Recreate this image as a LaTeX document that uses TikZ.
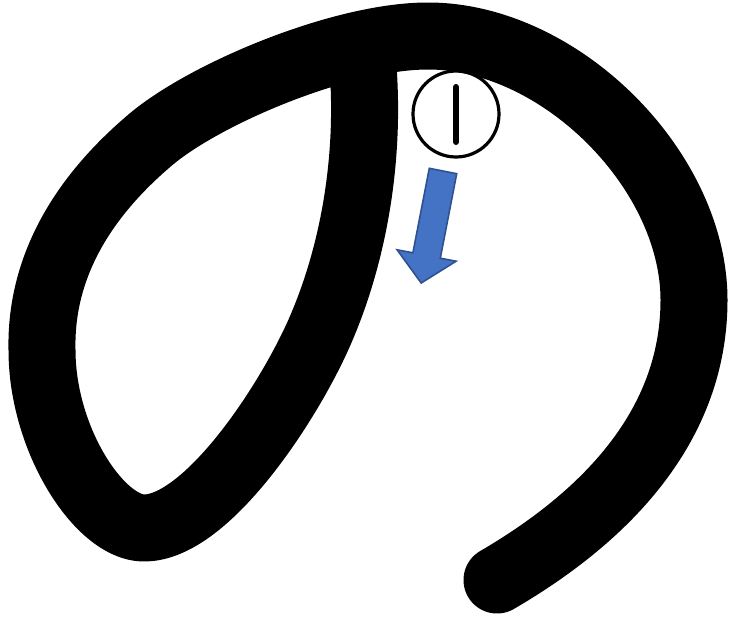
\documentclass[tikz,border=0pt]{standalone}
\usetikzlibrary{calc}
\usetikzlibrary{positioning}

\definecolor{arrowfill}{RGB}{68,114,196}
\definecolor{arrowline}{RGB}{47,82,143}

\tikzset{
    kana stroke/.style={line width=67pt, line cap=round, line join=round, black},
    order mark/.style={circle, draw, line width=3.2pt, minimum size=86pt, inner sep=0pt},
    dir arrow/.style={fill=arrowfill, draw=arrowline, line width=1.6pt, line join=miter}
}

\begin{document}
\begin{tikzpicture}[x=1pt, y=-1pt]

    \useasboundingbox (0, 0) rectangle (736, 616);

    \begin{scope}
        \coordinate (S) at (362, 55);
        \coordinate (B) at (144, 528);
        \coordinate (T) at (428, 36);
        \coordinate (E) at (497, 580);

        % the one stroke of the kana
        \draw [kana stroke] (S)
            .. controls (372, 160) and (352, 262) .. (316, 340)
            .. controls (282, 413) and (204, 528) .. (B)
            .. controls (100, 528) and (42, 440) .. (42, 350)
            .. controls (40, 262) and (88, 193) .. (149, 141)
            .. controls (202, 95) and (340, 36) .. (T)
            .. controls (560, 36) and (694, 170) .. (694, 300)
            .. controls (694, 430) and (600, 520) .. (E);

        % stroke number
        \node [order mark] (num) at (456, 114) {};
        \draw [line width=6pt, line cap=round] ($(num.center) + (0, -27)$) -- ($(num.center) + (0, 28)$);

        % direction of the stroke
        \draw [dir arrow] (429.3, 168.3) -- (456.7, 173.7) -- (440.3, 258.2) -- (456.1, 261.2)
            -- (421.2, 283) -- (397.1, 249.8) -- (412.9, 252.8) -- cycle;
    \end{scope}

\end{tikzpicture}
\end{document}
